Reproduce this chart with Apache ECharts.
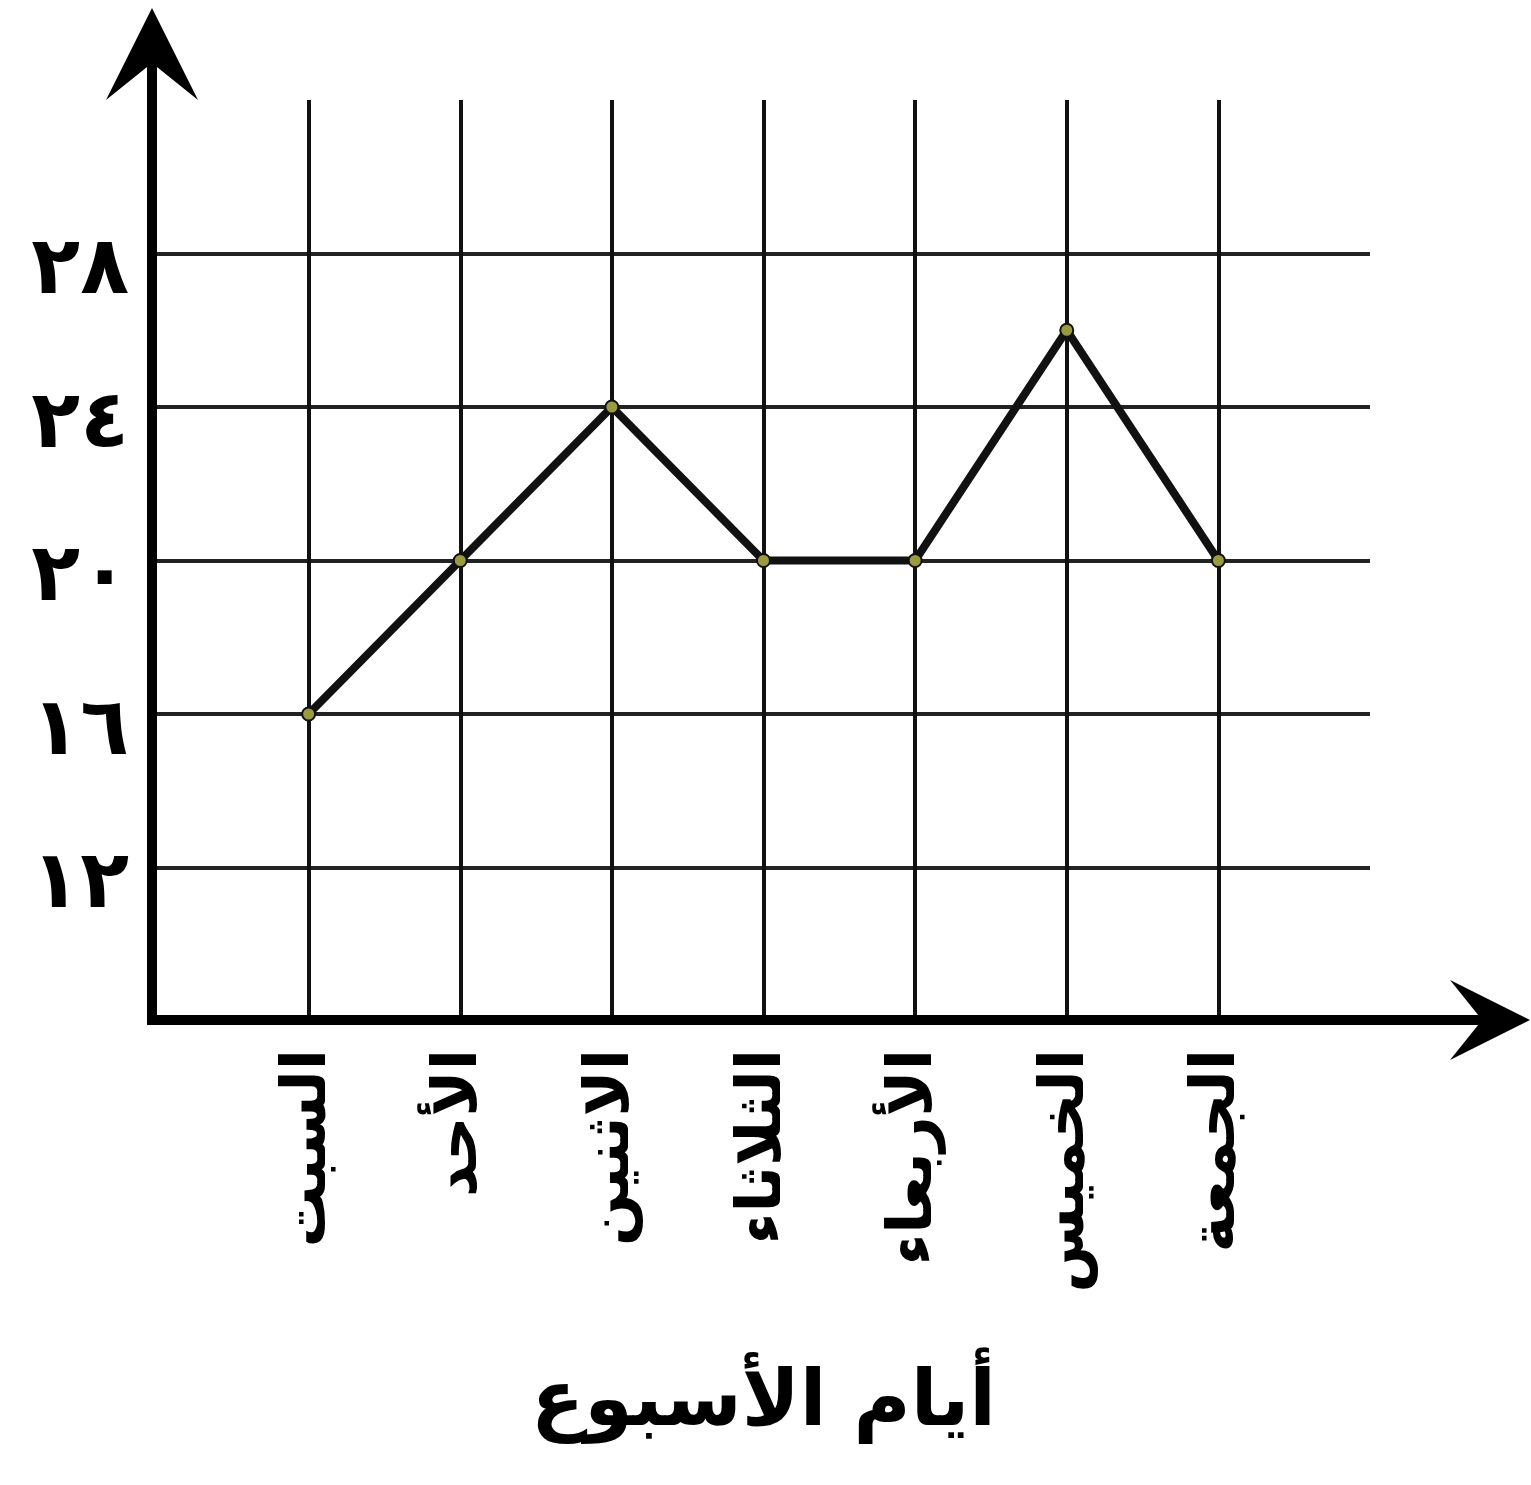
<!DOCTYPE html>
<html>
<head>
<meta charset="utf-8">
<script src="https://cdn.jsdelivr.net/npm/echarts@6/dist/echarts.min.js"></script>
<style>
  html, body { margin: 0; padding: 0; background: #ffffff; }
  #chart { width: 1531px; height: 1485px; }
</style>
</head>
<body>
<div id="chart"></div>
<script>
// Days of the week (Saturday first) and the reading for each day
const days = ['السبت', 'الأحد', 'الاثنين', 'الثلاثاء', 'الأربعاء', 'الخميس', 'الجمعة'];
const temps = [16, 20, 24, 20, 20, 26, 20];

// Vertical axis ticks and their Arabic-Indic labels
const yTickValues = [12, 16, 20, 24, 28];
const yTickLabels = ['١٢', '١٦', '٢٠', '٢٤', '٢٨'];

const xAxisTitle = 'أيام الأسبوع';

// Notched arrow head used at the end of both axes
const arrowHead = 'path://M0,0 L46,92 L0,55 L-46,92 Z';
const FONT = 'DejaVu Sans';

const chart = echarts.init(document.getElementById('chart'), null, { renderer: 'canvas' });

chart.setOption({
  backgroundColor: '#ffffff',
  animation: false,
  grid: [
    // plotting area with the grid lines
    { left: 157, right: 161, top: 100, bottom: 464 },
    // frame for the two arrowed axis lines
    { left: 152, right: 41, top: 54, bottom: 465 }
  ],
  xAxis: [
    {
      gridIndex: 0,
      type: 'value',
      min: 0,
      max: 8,
      interval: 1,
      axisLine: { show: false },
      axisTick: { show: false },
      splitLine: {
        show: true,
        showMinLine: false,
        showMaxLine: false,
        lineStyle: { color: '#111111', width: 4 }
      },
      axisLabel: {
        rotate: 90,
        margin: 28,
        fontFamily: FONT,
        fontWeight: 'bold',
        fontSize: 62,
        color: '#000000',
        formatter: v => days[v - 1] || ''
      },
      name: xAxisTitle,
      nameLocation: 'middle',
      nameGap: 345,
      nameTextStyle: {
        fontFamily: FONT,
        fontWeight: 'bold',
        fontSize: 78,
        color: '#000000'
      }
    },
    {
      gridIndex: 1,
      type: 'value',
      min: 0,
      max: 1,
      axisLine: {
        show: true,
        onZero: false,
        symbol: ['none', arrowHead],
        symbolSize: [94, 80],
        lineStyle: { color: '#000000', width: 10 }
      },
      axisTick: { show: false },
      axisLabel: { show: false },
      splitLine: { show: false }
    }
  ],
  yAxis: [
    {
      gridIndex: 0,
      type: 'value',
      min: 8,
      max: 32,
      interval: 4,
      axisLine: { show: false },
      axisTick: { show: false },
      splitLine: {
        show: true,
        showMinLine: false,
        showMaxLine: false,
        lineStyle: { color: '#222222', width: 4 }
      },
      axisLabel: {
        margin: 28,
        verticalAlign: 'top',
        lineHeight: 38,
        fontFamily: FONT,
        fontWeight: 'bold',
        fontSize: 80,
        color: '#000000',
        formatter: v => {
          const i = yTickValues.indexOf(v);
          return i >= 0 ? yTickLabels[i] : '';
        }
      }
    },
    {
      gridIndex: 1,
      type: 'value',
      min: 0,
      max: 1,
      axisLine: {
        show: true,
        onZero: false,
        symbol: ['none', arrowHead],
        symbolSize: [92, 92],
        lineStyle: { color: '#000000', width: 10, cap: 'square' }
      },
      axisTick: { show: false },
      axisLabel: { show: false },
      splitLine: { show: false }
    }
  ],
  series: [
    {
      type: 'line',
      xAxisIndex: 0,
      yAxisIndex: 0,
      data: days.map((d, i) => [i + 1, temps[i]]),
      symbol: 'circle',
      symbolSize: 13,
      showAllSymbol: true,
      lineStyle: { color: '#111111', width: 8 },
      itemStyle: { color: '#9a9a40', borderColor: '#111111', borderWidth: 2 },
      z: 5
    }
  ]
});
</script>
</body>
</html>
